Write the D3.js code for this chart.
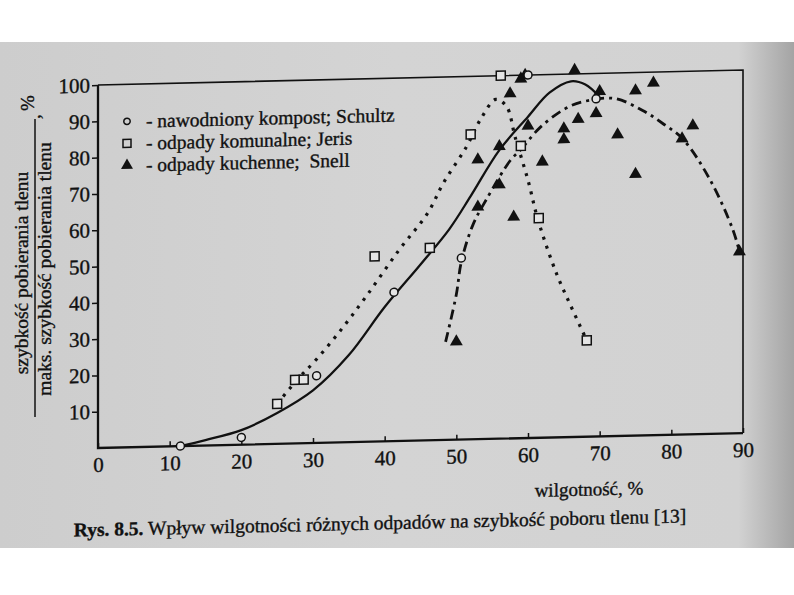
<!DOCTYPE html>
<html>
<head>
<meta charset="utf-8">
<script src="https://cdn.jsdelivr.net/npm/d3@7"></script>
<style>
body { margin: 0; background: #fff; }
svg text { font-family: "Liberation Serif", "DejaVu Serif", serif; fill: #111; stroke: #111; stroke-width: 0.35px; }
</style>
</head>
<body>
<script>
// moisture (x, %) vs relative oxygen uptake (y, %)
var xTicks = [0, 10, 20, 30, 40, 50, 60, 70, 80, 90];
var yTicks = [10, 20, 30, 40, 50, 60, 70, 80, 90, 100];

// measured points
var schultzPts = [[11.5,0],[20,2],[30.5,18.5],[41.3,41],[50.7,50],[60,100],[69.5,93]];
var jerisPts = [[25,11],[27.5,17.5],[28.7,17.5],[38.6,51],[46.3,53],[52,84],[56.2,100],[59,80.5],[61.5,60.5],[68.2,26.5]];
var snellPts = [[50,27],[53,64],[53,77],[56,70],[56,80.5],[57.5,95],[58,61],[59,99],[59.6,100],[60,86],
  [62,76],[65,82],[65,85],[66.5,101],[67,87.5],[69.5,89],[70,95],[72.5,83],[75,72],[75,95],
  [77.5,97],[81.5,81.5],[83,85],[89.5,50]];

// hand drawn fitted curves
var schultzFit = [[11.5,0],[15,1.5],[20,4],[25,8.5],[30,14.5],[35,24],[40,37],[45,48.5],[49,58],
  [52,67],[56,79.5],[60,88.5],[63,95],[66,98],[68,97],[70,93.5]];
var jerisFit = [[25,11],[28,18],[30,22],[33.5,30],[37.4,40],[42,52.6],[46,62.6],[48.2,70.8],[51.4,80.6],
  [53.5,88.5],[55.5,93.5],[57,91.5],[58.2,83],[60,71],[61.4,60],[64,45],[66,36],[68.2,26.5]];
var snellFit = [[48.5,27],[50,40],[50.7,49],[52.3,59],[54.2,66],[57.5,76.5],[59,79.5],[61.7,85.5],
  [65.2,90.5],[67.7,92.3],[72,93],[76,89.5],[79,85.5],[81.6,81.4],[85.4,70],[88.6,56],[89.5,50]];

var legendItems = [
  {sym: "circle", label: "- nawodniony kompost; Schultz"},
  {sym: "square", label: "- odpady komunalne; Jeris"},
  {sym: "triangle", label: "- odpady kuchenne;  Snell"}
];

var W = 794, H = 595;
var ox = 98, oy = 448;          // plot origin on the page
var pw = 645, ph = 363;

var svg = d3.select("body").append("svg")
  .attr("width", W).attr("height", H);

// scanned page
var defs = svg.append("defs");
var grad = defs.append("linearGradient").attr("id", "paper");
grad.append("stop").attr("offset", "0").attr("stop-color", "#cdcdcd");
grad.append("stop").attr("offset", "0.5").attr("stop-color", "#d4d4d4");
grad.append("stop").attr("offset", "0.93").attr("stop-color", "#d2d2d2");
grad.append("stop").attr("offset", "1").attr("stop-color", "#a4a4a4");
svg.append("rect").attr("width", W).attr("height", H).attr("fill", "#fff");
svg.append("rect").attr("x", 0).attr("y", 42).attr("width", W).attr("height", 506)
  .attr("fill", "url(#paper)");

var x = d3.scaleLinear().domain([0, 90]).range([0, pw]);
var y = d3.scaleLinear().domain([0, 100]).range([0, -ph]);

// the scan is slightly tilted
var g = svg.append("g")
  .attr("transform", "translate(" + ox + "," + oy + ") skewY(-1.33)");

// frame
g.append("path")
  .attr("d", "M" + x(0) + "," + y(100) + "H" + x(90) + "V" + y(0))
  .attr("fill", "none").attr("stroke", "#111").attr("stroke-width", 1.6);
g.append("path")
  .attr("d", "M" + x(0) + "," + y(100) + "V" + y(0) + "H" + x(90))
  .attr("fill", "none").attr("stroke", "#111").attr("stroke-width", 2.3);

var xAxis = g.append("g")
  .call(d3.axisBottom(x).tickValues(xTicks).tickSizeInner(-5).tickSizeOuter(0).tickPadding(9));
var yAxis = g.append("g")
  .call(d3.axisLeft(y).tickValues(yTicks).tickSizeInner(6).tickSizeOuter(0).tickPadding(2));
[xAxis, yAxis].forEach(function(a) {
  a.select(".domain").remove();
  a.selectAll("line").attr("stroke", "#111").attr("stroke-width", 1.5);
  a.selectAll("text").attr("font-size", 21).attr("fill", "#111");
});

// curves
var line = d3.line()
  .x(function(d) { return x(d[0]); })
  .y(function(d) { return y(d[1]); })
  .curve(d3.curveCatmullRom.alpha(0.5));

g.append("path").datum(schultzFit).attr("d", line)
  .attr("fill", "none").attr("stroke", "#111").attr("stroke-width", 2.3);
g.append("path").datum(jerisFit).attr("d", line)
  .attr("fill", "none").attr("stroke", "#111").attr("stroke-width", 3.2)
  .attr("stroke-dasharray", "3,6.5");
g.append("path").datum(snellFit).attr("d", line)
  .attr("fill", "none").attr("stroke", "#111").attr("stroke-width", 2.8)
  .attr("stroke-dasharray", "10,5,3,5");

// markers
function drawSym(sel, type, small) {
  if (type === "circle") {
    sel.append("circle").attr("r", small ? 3.2 : 4)
      .attr("fill", small ? "none" : "#e4e4e4").attr("stroke", "#111").attr("stroke-width", 1.5);
  } else if (type === "square") {
    var s = small ? 8 : 9;
    sel.append("rect").attr("x", -s / 2).attr("y", -s / 2).attr("width", s).attr("height", s)
      .attr("fill", small ? "none" : "#e4e4e4").attr("stroke", "#111").attr("stroke-width", 1.5);
  } else {
    sel.append("path").attr("d", d3.symbol(d3.symbolTriangle, small ? 62 : 72)()).attr("fill", "#111");
  }
}

[[snellPts, "triangle"], [jerisPts, "square"], [schultzPts, "circle"]].forEach(function(s) {
  g.append("g").selectAll("g").data(s[0]).enter().append("g")
    .attr("transform", function(d) { return "translate(" + x(d[0]) + "," + y(d[1]) + ")"; })
    .each(function() { drawSym(d3.select(this), s[1], false); });
});

// legend
var leg = g.append("g").attr("transform", "translate(29,-326)");
legendItems.forEach(function(it, i) {
  var row = leg.append("g").attr("transform", "translate(0," + i * 22 + ")");
  drawSym(row, it.sym, true);
  row.append("text").attr("x", 19).attr("y", 6.5).attr("font-size", 19.5)
    .style("white-space", "pre").text(it.label);
});

// x title and caption
g.append("text").attr("x", 491).attr("y", 59).attr("text-anchor", "middle")
  .attr("font-size", 19).text("wilgotność, %");
var cap = g.append("text").attr("x", 282).attr("y", 88).attr("text-anchor", "middle")
  .attr("font-size", 19.5);
cap.append("tspan").attr("font-weight", "bold").text("Rys. 8.5.");
cap.append("tspan").text(" Wpływ wilgotności różnych odpadów na szybkość poboru tlenu [13]");

// y title as a fraction
svg.append("text").attr("transform", "translate(28,273) rotate(-90)")
  .attr("text-anchor", "middle").attr("font-size", 19.5)
  .text("szybkość pobierania tlenu");
svg.append("text").attr("transform", "translate(51,269) rotate(-90)")
  .attr("text-anchor", "middle").attr("font-size", 19.5)
  .text("maks. szybkość pobierania tlenu");
svg.append("line").attr("x1", 35).attr("x2", 35).attr("y1", 119).attr("y2", 417)
  .attr("stroke", "#111").attr("stroke-width", 1.5);
svg.append("text").attr("transform", "translate(40,119) rotate(-90)")
  .attr("font-size", 19).text(",");
svg.append("text").attr("transform", "translate(34,103) rotate(-90)")
  .attr("text-anchor", "middle").attr("font-size", 19).text("%");
</script>
</body>
</html>
